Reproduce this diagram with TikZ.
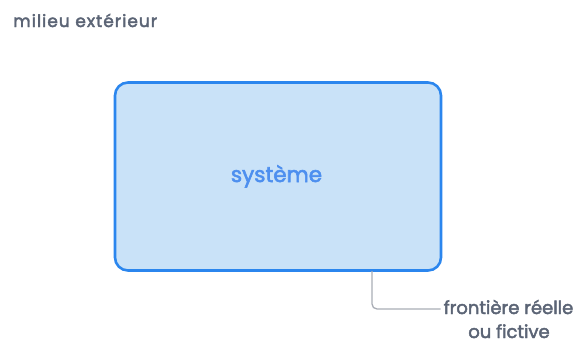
\documentclass[tikz,border=0pt]{standalone}
\usepackage{fontspec}
\setmainfont{Poppins}[FakeBold=2.5]
\newfontfamily\widefont{Poppins}[FakeBold=2.5,LetterSpace=6]
\definecolor{bord}{HTML}{2B86EE}
\definecolor{fond}{HTML}{C9E2F8}
\definecolor{systxt}{HTML}{4D8FEF}
\definecolor{graytxt}{HTML}{5B6475}
\definecolor{conn}{HTML}{A9ADB5}
\begin{document}
\begin{tikzpicture}[x=1pt,y=-1pt,
  lbl/.style={text=graytxt,inner sep=0pt}]
\useasboundingbox (0,0) rectangle (579,343);
\node[draw=bord,fill=fond,line width=2.6pt,rounded corners=13pt,minimum width=326pt,minimum height=188pt,inner sep=0pt] (sys) at (278,176.5) {};
\node[text=systxt,font=\fontsize{21.5}{24}\selectfont,anchor=base,inner sep=0pt] (syslbl) at (276.5,182) {système};
\node[lbl,anchor=base west,font=\widefont\fontsize{17}{20}\selectfont] (milieu) at (13,27) {milieu extérieur};
\node[lbl,anchor=base,font=\fontsize{18}{20}\selectfont] (front) at (508.5,314) {frontière réelle};
\node[lbl,anchor=base,font=\fontsize{18}{20}\selectfont] (fictive) at (509,338) {ou fictive};
\coordinate (start) at (372,271);
\draw[conn,line width=1.3pt,rounded corners=5pt] (start) |- ([xshift=-3pt]front.west |- 0,309);
\end{tikzpicture}
\end{document}
